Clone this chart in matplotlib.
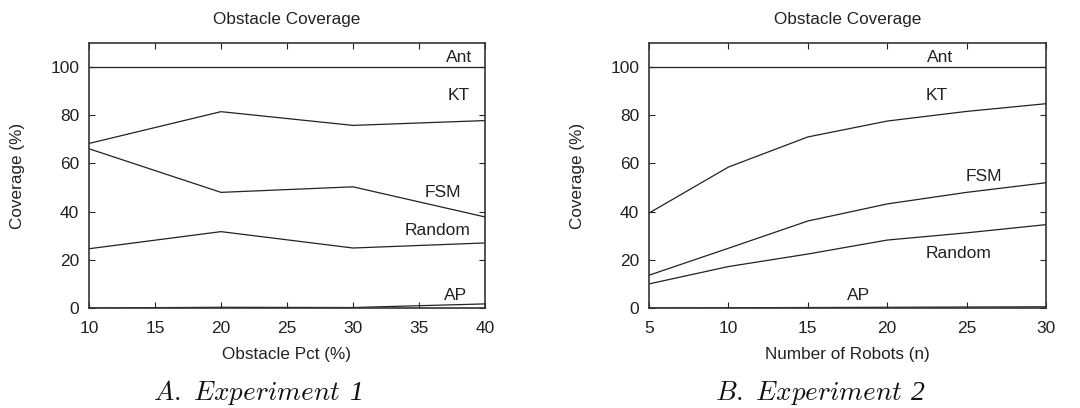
import matplotlib
matplotlib.use("Agg")
import matplotlib.pyplot as plt

plt.rcParams['font.family'] = ['Liberation Sans', 'DejaVu Sans']
plt.rcParams['mathtext.fontset'] = 'cm'

# Experiment 1
obstacle_pct = [10, 20, 30, 40]
e1_ant = [100, 100, 100, 100]
e1_kt = [68.3, 81.5, 75.8, 77.8]
e1_fsm = [66.1, 48.0, 50.3, 37.8]
e1_random = [24.6, 31.7, 24.9, 27.0]
e1_ap = [0.0, 0.3, 0.2, 1.7]

# Experiment 2
robots = [5, 10, 15, 20, 25, 30]
e2_ant = [100, 100, 100, 100, 100, 100]
e2_kt = [39.4, 58.5, 71.0, 77.6, 81.6, 84.8]
e2_fsm = [13.6, 24.8, 36.1, 43.2, 48.0, 52.0]
e2_random = [10.0, 17.2, 22.4, 28.2, 31.2, 34.6]
e2_ap = [0.0, 0.1, 0.2, 0.3, 0.4, 0.5]

series_names = ["Ant", "KT", "FSM", "Random", "AP"]
e1_label_pos = [(38.0, 104.0), (38.0, 88.0), (36.8, 48.0), (36.4, 32.0), (37.8, 5.0)]
e2_label_pos = [(23.3, 104.0), (23.1, 88.0), (26.1, 54.5), (24.5, 22.5), (18.2, 5.0)]

fig = plt.figure(figsize=(10.8, 4.08), dpi=100)
W, H = 1080, 408
ax1 = fig.add_axes([89 / W, 1 - 308 / H, (485 - 89) / W, (308 - 43) / H])
ax2 = fig.add_axes([649 / W, 1 - 308 / H, (1046 - 649) / W, (308 - 43) / H])

col = '#222222'

def draw(ax, x, ys, label_pos, xlabel, xticks):
    for y in ys:
        ax.plot(x, y, color=col, lw=0.9)
    for name, (lx, ly) in zip(series_names, label_pos):
        ax.text(lx, ly, name, ha='center', va='center', fontsize=12.5, color=col)
    ax.set_xlim(x[0], x[-1])
    ax.set_ylim(0, 110)
    ax.set_xticks(xticks)
    ax.set_yticks([0, 20, 40, 60, 80, 100])
    ax.tick_params(direction='in', top=True, right=True, length=4, width=0.8,
                   labelsize=12.5, colors=col)
    ax.tick_params(axis='x', pad=9.5)
    ax.tick_params(axis='y', pad=7)
    for s in ax.spines.values():
        s.set_linewidth(1.2)
        s.set_color('#333333')
    ax.set_title("Obstacle Coverage", fontsize=12.3, pad=14, color=col)
    ax.set_xlabel(xlabel, fontsize=12.3, color=col, labelpad=8)
    ax.set_ylabel("Coverage (%)", fontsize=12.3, color=col)
    ax.yaxis.set_label_coords(-0.162, 0.5)

draw(ax1, obstacle_pct, [e1_ant, e1_kt, e1_fsm, e1_random, e1_ap], e1_label_pos,
     "Obstacle Pct (%)", [10, 15, 20, 25, 30, 35, 40])
draw(ax2, robots, [e2_ant, e2_kt, e2_fsm, e2_random, e2_ap], e2_label_pos,
     "Number of Robots (n)", [5, 10, 15, 20, 25, 30])

subtitles = [("A. Experiment", "1", 258), ("B. Experiment", "2", 820)]
fig.canvas.draw()
renderer = fig.canvas.get_renderer()
for main, digit, cx in subtitles:
    t = fig.text(0, 0, r'$\mathit{' + main.replace(' ', r'\ ') + r'}$', fontsize=19.5,
                 color='#111111', ha='left', va='baseline')
    d = fig.text(0, 0, digit, fontsize=20, family='Liberation Serif', style='italic',
                 color='#111111', ha='left', va='baseline')
    bb_t = t.get_window_extent(renderer)
    bb_d = d.get_window_extent(renderer)
    gap = 9
    total = bb_t.width + gap + bb_d.width
    x0 = (cx - total / 2) / W
    base = 1 - 400 / H
    t.set_position((x0, base))
    d.set_position(((cx - total / 2 + bb_t.width + gap) / W, base))

fig.savefig("out.png", dpi=100)
